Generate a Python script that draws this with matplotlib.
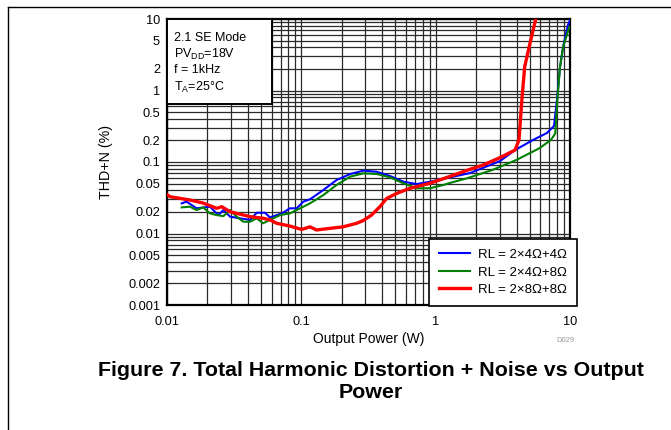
import matplotlib
matplotlib.use("Agg")
import matplotlib.pyplot as plt
from matplotlib.ticker import FixedLocator, NullFormatter, LogLocator
from matplotlib.patches import Rectangle
from matplotlib.lines import Line2D

plt.rcParams['font.family'] = ['Liberation Sans', 'DejaVu Sans']
plt.rcParams['mathtext.fontset'] = 'custom'
plt.rcParams['mathtext.rm'] = 'Liberation Sans'
plt.rcParams['mathtext.it'] = 'Liberation Sans'

# ---- data ----
red_x = [0.01, 0.01053, 0.01483, 0.01854, 0.02343, 0.02554, 0.02941, 0.04148, 0.0521,
         0.05853, 0.06547, 0.08226, 0.1005, 0.116, 0.1298, 0.1635, 0.205, 0.258, 0.2894,
         0.333, 0.3845, 0.4311, 0.512, 0.6405, 0.9053, 1.28, 1.80, 2.26, 3.01, 3.90, 4.17,
         4.38, 4.6, 5.04, 5.5, 5.7]
red_y = [0.035, 0.0327, 0.0294, 0.0267, 0.0225, 0.0237, 0.0202, 0.0172, 0.0163,
         0.0155, 0.0139, 0.0127, 0.0114, 0.0124, 0.0112, 0.0118, 0.0124, 0.0139, 0.0152,
         0.0181, 0.0237, 0.0309, 0.0363, 0.0428, 0.0504, 0.063, 0.079, 0.0908, 0.115, 0.147, 0.203,
         0.736, 2.15, 4.6, 9.2, 12.0]

blue_x = [0.01287, 0.0140, 0.0166, 0.0209, 0.0241, 0.0263, 0.0295, 0.0350, 0.0415, 0.0465,
          0.0536, 0.0584, 0.0715, 0.0823, 0.0923, 0.1035, 0.116, 0.146, 0.183, 0.231, 0.290,
          0.364, 0.457, 0.575, 0.723, 0.907, 1.28, 1.80, 3.01, 3.90, 5.30, 6.74, 7.60, 8.0,
          8.43, 8.88, 9.65, 10.0]
blue_y = [0.0264, 0.0279, 0.0225, 0.0237, 0.0181, 0.0213, 0.0172, 0.0163, 0.0155, 0.0195,
          0.0195, 0.0168, 0.0191, 0.0225, 0.0225, 0.0279, 0.0301, 0.0406, 0.056, 0.0679, 0.0757,
          0.073, 0.0637, 0.053, 0.0492, 0.053, 0.061, 0.070, 0.103, 0.147, 0.203, 0.255, 0.319, 0.736,
          2.13, 4.06, 8.2, 9.6]

green_x = [0.01287, 0.0148, 0.0166, 0.0186, 0.0209, 0.0234, 0.0263, 0.0295, 0.033, 0.037,
           0.0415, 0.0465, 0.052, 0.0584, 0.0695, 0.0823, 0.0979, 0.116, 0.146, 0.183, 0.231,
           0.290, 0.364, 0.457, 0.575, 0.723, 0.907, 1.14, 1.28, 1.70, 2.64, 4.0, 5.93, 7.2,
           7.77, 8.05, 8.43, 8.9, 9.9]
green_y = [0.0232, 0.0237, 0.0213, 0.0232, 0.0191, 0.0181, 0.0175, 0.0213, 0.0172, 0.0146,
           0.0146, 0.0163, 0.0139, 0.0155, 0.0181, 0.0191, 0.0225, 0.0264, 0.0345, 0.0477, 0.0624,
           0.0695, 0.068, 0.061, 0.0504, 0.0428, 0.043, 0.0477, 0.051, 0.059, 0.0773, 0.107, 0.156, 0.203,
           0.25, 0.736, 2.15, 4.1, 7.8]

labels = ["RL = 2×4Ω+4Ω", "RL = 2×4Ω+8Ω", "RL = 2×8Ω+8Ω"]
y_ticks = [0.001, 0.002, 0.005, 0.01, 0.02, 0.05, 0.1, 0.2, 0.5, 1, 2, 5, 10]
y_ticklabels = ["0.001", "0.002", "0.005", "0.01", "0.02", "0.05", "0.1", "0.2", "0.5",
                "1", "2", "5", "10"]
x_ticks = [0.01, 0.1, 1, 10]
x_ticklabels = ["0.01", "0.1", "1", "10"]
info_lines = ["2.1 SE Mode", "PV$_{\\mathrm{DD}}$=18V", "f = 1kHz", "T$_{\\mathrm{A}}$=25°C"]

W, H = 671, 430
fig = plt.figure(figsize=(W / 100, H / 100), dpi=100)
L, R, T, B = 167, 570, 19, 305
ax = fig.add_axes([L / W, 1 - B / H, (R - L) / W, (B - T) / H])
ax.set_xscale('log')
ax.set_yscale('log')
ax.set_xlim(0.01, 10)
ax.set_ylim(0.001, 10)

ax.xaxis.set_major_locator(FixedLocator(x_ticks))
ax.set_xticklabels(x_ticklabels)
ax.yaxis.set_major_locator(FixedLocator(y_ticks))
ax.set_yticklabels(y_ticklabels)
ax.xaxis.set_minor_locator(LogLocator(base=10, subs=range(2, 10), numticks=20))
ax.yaxis.set_minor_locator(LogLocator(base=10, subs=range(2, 10), numticks=20))
ax.xaxis.set_minor_formatter(NullFormatter())
ax.yaxis.set_minor_formatter(NullFormatter())
ax.tick_params(which='both', length=0, labelsize=9.2, colors='black')
ax.tick_params(axis='x', pad=8)
ax.tick_params(axis='y', pad=5)
ax.grid(True, which='both', color='#2a2a2a', lw=0.9)
for s in ax.spines.values():
    s.set_linewidth(1.6)
    s.set_color('black')

ax.plot(blue_x, blue_y, color='#0000ff', lw=1.5, label=labels[0], zorder=3)
ax.plot(green_x, green_y, color='#008000', lw=1.5, label=labels[1], zorder=3)
ax.plot(red_x, red_y, color='#ff0000', lw=2.4, label=labels[2], zorder=4, clip_on=True)

ax.set_xlabel("Output Power (W)", fontsize=10, labelpad=3)
fig.text(106 / W, 1 - 161.5 / H, "THD+N (%)", fontsize=10.3, rotation=90,
         ha='center', va='center')

# info box
bx1 = (272 - L) / (R - L)
by0 = 1 - (104 - T) / (B - T)
ax.add_patch(Rectangle((0, by0), bx1, 1 - by0, transform=ax.transAxes, facecolor='white',
                       edgecolor='black', lw=1.4, zorder=5))
for txt, yc in zip(info_lines, [38, 54, 70, 87]):
    fig.text(174 / W, 1 - yc / H, txt, fontsize=9, va='center', ha='left', zorder=6)

# legend
handles = [Line2D([], [], color='#0000ff', lw=1.5),
           Line2D([], [], color='#008000', lw=1.5),
           Line2D([], [], color='#ff0000', lw=2.4)]
leg = fig.legend(handles, labels, loc='lower right', bbox_to_anchor=(577 / W, 1 - 306 / H),
                 fontsize=9.5, frameon=True, fancybox=False, handlelength=2.3,
                 borderpad=0.75, labelspacing=0.4, handletextpad=0.65, borderaxespad=0)
leg.get_frame().set_edgecolor('black')
leg.get_frame().set_linewidth(1.2)
leg.get_frame().set_alpha(1)
leg.set_zorder(10)

fig.text(565 / W, 1 - 340 / H, "D029", fontsize=5.5, color='#999999', ha='center', va='center')

fig.text(371 / W, 1 - 370 / H, "Figure 7. Total Harmonic Distortion + Noise vs Output",
         fontsize=15.4, fontweight='bold', ha='center', va='center')
fig.text(371 / W, 1 - 393 / H, "Power", fontsize=15.4, fontweight='bold', ha='center', va='center')

# page border lines
fig.add_artist(Line2D([8 / W, 1], [1 - 6.5 / H, 1 - 6.5 / H], transform=fig.transFigure,
                      color='black', lw=1))
fig.add_artist(Line2D([7.5 / W, 7.5 / W], [0, 1 - 6.5 / H], transform=fig.transFigure,
                      color='black', lw=1))

fig.savefig("out.png", dpi=100)
